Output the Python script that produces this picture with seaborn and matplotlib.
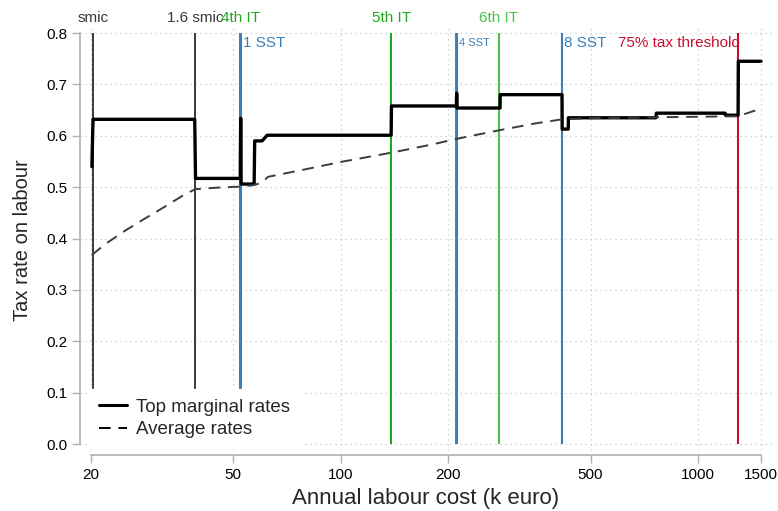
import numpy as np
import pandas as pd
import matplotlib
matplotlib.use("Agg")
import matplotlib.pyplot as plt
from matplotlib.lines import Line2D
import seaborn as sns

sns.set_style("white")
plt.rcParams['font.family'] = ['Liberation Sans', 'DejaVu Sans']

# top marginal rates (vertices of the step curve), annual labour cost in k euro
marginal_cost = [20.1, 20.25, 39.0, 39.2, 52.3, 52.45, 52.6, 57.2, 57.4, 60.2, 62.2,
                 138.3, 138.6, 210.6, 211.0, 211.5, 279.0, 279.4, 416.0, 416.4,
                 433.0, 433.4, 762.0, 764.0, 1190.0, 1193.0, 1294.0, 1296.0, 1500.0]
marginal_rate = [0.540, 0.632, 0.632, 0.517, 0.517, 0.634, 0.506, 0.506, 0.590, 0.590, 0.601,
                 0.601, 0.658, 0.658, 0.683, 0.654, 0.654, 0.680, 0.680, 0.613,
                 0.613, 0.635, 0.635, 0.644, 0.644, 0.640, 0.640, 0.745, 0.745]

# average rates
average_cost = [20.1, 22.0, 25.0, 28.0, 32.0, 36.0, 39.1, 45.0, 52.4, 57.2, 60.2, 62.5,
                80.0, 100.0, 138.3, 180.0, 211.0, 279.0, 350.0, 416.0, 500.0, 762.0,
                1294.0, 1500.0]
average_rate = [0.368, 0.390, 0.416, 0.437, 0.461, 0.483, 0.496, 0.499, 0.501, 0.504, 0.509, 0.520,
                0.535, 0.549, 0.567, 0.583, 0.594, 0.611, 0.624, 0.632, 0.634, 0.636,
                0.638, 0.653]

# thresholds
smic_x = [20.2, 39.1]
smic_labels = ["smic", "1.6 smic"]
it_x = [52.3, 138.3, 210.0, 277.0]
it_labels = ["4th IT", "5th IT", "", "6th IT"]
it_colors = ["#1fa81f", "#1fa81f", "#2cb52c", "#4cc24c"]
sst_x = [52.6, 211.6, 416.0]
sst_labels = ["1 SST", "4 SST", "8 SST"]
tax75_x = 1294.0
tax75_label = "75% tax threshold"

x_ticks = [20, 50, 100, 200, 500, 1000, 1500]
y_ticks = [0.0, 0.1, 0.2, 0.3, 0.4, 0.5, 0.6, 0.7, 0.8]

df_marg = pd.DataFrame({"cost": marginal_cost, "rate": marginal_rate})
df_avg = pd.DataFrame({"cost": average_cost, "rate": average_rate})

fig = plt.figure(figsize=(7.78, 5.11), dpi=100)
ax = fig.add_axes([80 / 778, 56 / 511, 692 / 778, 430 / 511])
ax.set_xscale("log")

# grid
for xt in x_ticks:
    ax.axvline(xt, color="#c8c8c8", lw=0.9, ls=(0, (1, 3)), zorder=0)
for yt in y_ticks:
    ax.axhline(yt, color="#c8c8c8", lw=0.9, ls=(0, (1, 3)), zorder=0)

# threshold lines
ax.vlines(smic_x, 0, 0.8, color="#3a3a3a", lw=1.4, zorder=2)
ax.vlines(it_x, 0, 0.8, color=it_colors, lw=1.5, zorder=2)
ax.vlines(sst_x, 0, 0.8, color="#3b7fb6", lw=1.5, zorder=2)
ax.vlines([tax75_x], 0, 0.8, color="#c8102e", lw=1.5, zorder=2)

sns.lineplot(data=df_marg, x="cost", y="rate", sort=False, estimator=None,
             color="black", lw=2.4, ax=ax, zorder=3)
sns.lineplot(data=df_avg, x="cost", y="rate", sort=False, estimator=None,
             color="#3c3c3c", lw=1.4, ax=ax, zorder=3)
ax.lines[-1].set_dashes((6, 4))

ax.set_xlim(18.62, 1610)
ax.set_ylim(-0.0214, 0.8156)

# labels above the plot and by the lines
for x, lab in zip(smic_x, smic_labels):
    ax.text(x, 0.83, lab, color="#3a3a3a", fontsize=11, ha="center", va="center",
            clip_on=False)
for x, lab, c in zip(it_x, it_labels, it_colors):
    ax.text(x, 0.83, lab, color=c, fontsize=11, ha="center", va="center",
            clip_on=False)
for x, lab in zip(sst_x, sst_labels):
    fs = 8 if lab == "4 SST" else 11
    ax.text(x * 1.012, 0.78, lab, color="#3b7fb6", fontsize=fs, ha="left", va="center")
ax.text(tax75_x * 1.01, 0.78, tax75_label, color="#c8102e", fontsize=11, ha="right", va="center")

# axes styling
ax.set_xticks(x_ticks)
ax.set_xticklabels([str(t) for t in x_ticks])
ax.xaxis.set_minor_locator(matplotlib.ticker.NullLocator())
ax.set_yticks(y_ticks)
ax.set_yticklabels([f"{t:.1f}" for t in y_ticks])
ax.tick_params(axis="both", which="major", direction="out", length=6, width=1,
               color="#b0b0b0", labelsize=11, labelcolor="black", pad=3,
               bottom=True, left=True)
for side in ["top", "right"]:
    ax.spines[side].set_visible(False)
ax.spines["left"].set_bounds(0, 0.8)
ax.spines["bottom"].set_bounds(20, 1500)
for side in ["left", "bottom"]:
    ax.spines[side].set_color("#b0b0b0")
    ax.spines[side].set_linewidth(1.2)

ax.set_xlabel("Annual labour cost (k euro)", fontsize=16, labelpad=5)
ax.set_ylabel("Tax rate on labour", fontsize=14.5, labelpad=10)

handles = [Line2D([0], [0], color="black", lw=2.2),
           Line2D([0], [0], color="black", lw=1.4, dashes=(6, 4))]
leg = ax.legend(handles, ["Top marginal rates", "Average rates"], loc="lower left",
                bbox_to_anchor=(0.0, -0.005), frameon=True, fontsize=13.5,
                handlelength=1.5, handletextpad=0.5, labelspacing=0.3,
                borderpad=0.5, fancybox=False)
leg.get_frame().set_facecolor("white")
leg.get_frame().set_edgecolor("white")
leg.get_frame().set_alpha(1)
leg.set_zorder(10)

fig.savefig("out.png", dpi=100)
